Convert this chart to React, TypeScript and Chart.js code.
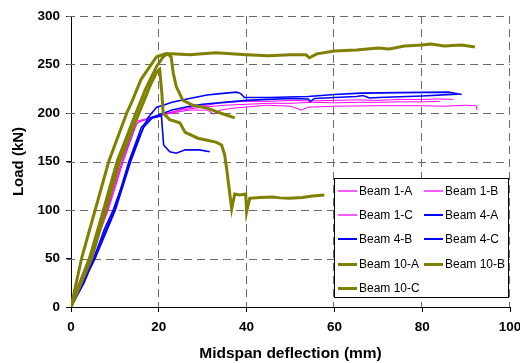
import React, { useEffect, useRef } from 'react';
import { Chart, registerables } from 'chart.js';

Chart.register(...registerables);

const FONT = "'Liberation Sans', Arial, Helvetica, sans-serif";

// X tick values / Y tick values
const xTicks = [0, 20, 40, 60, 80, 100];
const yTicks = [0, 50, 100, 150, 200, 250, 300];

const seriesLabels = ['Beam 1-A', 'Beam 1-B', 'Beam 1-C', 'Beam 4-A', 'Beam 4-B', 'Beam 4-C', 'Beam 10-A', 'Beam 10-B', 'Beam 10-C'];

const beam1A_x = [0, 0.6, 4.0, 8.2, 11.6, 14.4, 14.9, 15.4, 17, 19.5, 22.5, 26, 31, 34.5, 40, 45, 50, 55, 60, 65, 70, 75, 80, 84, 87];
const beam1A_y = [0, 12, 50, 100, 150, 186, 192, 192, 194, 197, 200, 205, 208, 211, 212, 212, 213, 212.5, 213, 213.5, 213, 214, 214, 214.5, 214];

const beam1B_x = [0, 4.3, 8.5, 11.9, 14.8, 15.3, 17, 20, 23, 27, 31, 32.5, 34, 37, 44.5, 50, 52.5, 54, 60, 70, 80, 85, 90, 92.3, 92.5];
const beam1B_y = [0, 50, 100, 150, 187, 191, 193, 197, 200, 203, 203, 199, 203, 205, 208, 207, 203, 206, 207, 207.5, 207.5, 207, 208, 207.5, 203];

const beam1C_x = [0, 4.1, 8.3, 11.7, 14.6, 15.2, 18, 21, 25, 30, 35, 40, 45, 50, 55, 60, 65, 70, 75, 80, 84];
const beam1C_y = [0, 50, 100, 150, 185, 190, 195, 199, 203, 206, 208, 209, 210, 210, 211, 210.5, 211, 211, 211.5, 211.5, 212];

const beam4A_x = [0, 3, 5.2, 7.6, 9.6, 11.6, 13.3, 15.5, 17.5, 19.5, 21, 23, 27, 31, 34, 37.7, 38.7, 39.5, 45, 54, 60, 66, 75, 86, 89];
const beam4A_y = [0, 25, 50, 80, 100, 125, 150, 175, 195, 206, 208, 211, 215, 218.5, 220, 221.5, 220, 216, 216, 217, 219, 220.5, 221, 221.5, 219];

const beam4B_x = [0, 5.5, 10.1, 13.6, 16.5, 18.5, 20.6, 20.8, 21.1, 22.5, 24, 26, 29.3, 31.6];
const beam4B_y = [0, 50, 100, 150, 185, 195, 197, 185, 167, 160, 158.5, 162, 162, 160];

const beam4C_x = [0, 5.1, 9.9, 13.2, 16, 18, 20, 23, 27, 30, 35, 40, 45, 50, 54, 54.5, 55.5, 60, 65, 66.5, 68, 70, 80, 88];
const beam4C_y = [0, 50, 100, 150, 185, 195, 198, 203, 207, 209, 211, 213, 214, 215, 214.5, 212, 215, 216, 217, 218, 215.5, 216, 217.5, 219.5];

const beam10A_x = [0, 2.4, 5.5, 8.6, 12.7, 14, 16, 19.5, 21.5, 23, 27, 33, 40, 45, 50, 53.5, 54.3, 56, 60, 65, 70, 72.5, 76, 80, 82, 85, 89, 92];
const beam10A_y = [0, 50, 100, 150, 200, 213, 235, 258, 261, 261, 260, 262, 260, 259, 260, 260, 257, 261, 264, 265, 267, 266, 269, 270, 271, 269, 270, 268];

const beam10B_x = [0, 4.2, 7.4, 10.5, 14.8, 17, 19.5, 21, 22, 22.8, 23.3, 24, 25.5, 27.8, 31, 34, 37.3];
const beam10B_y = [0, 50, 100, 150, 200, 225, 248, 258, 261, 258, 241, 227, 213, 208, 205, 200, 195];

const beam10C_x = [0, 4.7, 7.9, 11.1, 15.5, 18, 19.5, 20.2, 20.7, 21, 22.5, 24.8, 26, 28.9, 33, 34.3, 35, 35.5, 36.6, 37.3, 38.4, 39.8, 40, 40.7, 43, 46, 47.6, 49.8, 52.7, 55, 57.7];
const beam10C_y = [0, 50, 100, 150, 200, 228, 242, 245, 220, 200, 193, 190, 180, 174, 170, 167, 157, 141, 101, 116.5, 115.5, 116.5, 98, 112, 113, 113.5, 112.5, 112, 113, 114.5, 115.5];

const seriesX = [beam1A_x, beam1B_x, beam1C_x, beam4A_x, beam4B_x, beam4C_x, beam10A_x, beam10B_x, beam10C_x];
const seriesY = [beam1A_y, beam1B_y, beam1C_y, beam4A_y, beam4B_y, beam4C_y, beam10A_y, beam10B_y, beam10C_y];
const seriesColors = ['#FF00FF', '#FF00FF', '#FF00FF', '#0000FF', '#0000FF', '#0000FF', '#808000', '#808000', '#808000'];
const seriesWidths = [1, 1, 1, 1.6, 1.6, 1.6, 3, 3, 3];

const GRID_COLOR = '#6a6a6a';

const dashedGrid = {
  id: 'dashedGrid',
  beforeDatasetsDraw(chart: any) {
    const ctx = chart.ctx;
    const { left, right, top, bottom } = chart.chartArea;
    const xs = chart.scales.x;
    const ys = chart.scales.y;
    ctx.save();
    ctx.strokeStyle = GRID_COLOR;
    ctx.lineWidth = 1;
    ctx.setLineDash([8, 5]);
    xTicks.forEach((v) => {
      if (v === xTicks[0]) return;
      const px = Math.round(xs.getPixelForValue(v)) - 0.5;
      ctx.beginPath();
      ctx.moveTo(px, top);
      ctx.lineTo(px, bottom);
      ctx.stroke();
    });
    yTicks.forEach((v) => {
      if (v === yTicks[0]) return;
      const py = Math.round(ys.getPixelForValue(v)) + 0.5;
      ctx.beginPath();
      ctx.moveTo(left - 4, py);
      ctx.lineTo(right, py);
      ctx.stroke();
    });
    ctx.restore();
  },
};

const boxLegend = {
  id: 'boxLegend',
  afterDraw(chart: any) {
    const ctx = chart.ctx;
    ctx.save();
    ctx.setLineDash([]);
    const bx = 334.5, by = 178.5, bw = 174, bh = 119;
    ctx.fillStyle = '#ffffff';
    ctx.fillRect(bx, by, bw, bh);
    ctx.strokeStyle = '#000000';
    ctx.lineWidth = 1;
    ctx.strokeRect(bx, by, bw, bh);
    ctx.font = `12px ${FONT}`;
    ctx.textBaseline = 'middle';
    ctx.textAlign = 'left';
    chart.data.datasets.forEach((ds: any, i: number) => {
      const col = i % 2;
      const row = Math.floor(i / 2);
      const lx = col === 0 ? 338 : 424;
      const yc = Math.round(191 + row * 24.2);
      const thin = ds.borderWidth < 1.5;
      const lw = thin ? 1.3 : ds.borderWidth < 2.5 ? 2 : 3;
      const y = lw === 3 ? yc + 0.5 : yc;
      ctx.strokeStyle = ds.borderColor;
      ctx.lineWidth = lw;
      ctx.beginPath();
      ctx.moveTo(lx, y);
      ctx.lineTo(lx + 19, y);
      ctx.stroke();
      ctx.fillStyle = '#000000';
      ctx.fillText(ds.label, lx + 21, yc + 0.5);
    });
    ctx.restore();
  },
};

export default function App() {
  const ref = useRef<HTMLCanvasElement | null>(null);

  useEffect(() => {
    if (!ref.current) return;
    const datasets = seriesLabels.map((label, i) => ({
      label,
      data: seriesX[i].map((x, j) => ({ x, y: seriesY[i][j] })),
      borderColor: seriesColors[i],
      backgroundColor: seriesColors[i],
      borderWidth: seriesWidths[i],
      pointRadius: 0,
      showLine: true,
      tension: 0,
      fill: false,
      order: seriesLabels.length - i,
    }));

    const chart = new Chart(ref.current, {
      type: 'scatter',
      data: { datasets },
      plugins: [dashedGrid, boxLegend],
      options: {
        animation: false,
        responsive: false,
        devicePixelRatio: 1,
        layout: { padding: { top: 16, right: 10, left: 0, bottom: 0 } },
        plugins: { legend: { display: false }, tooltip: { enabled: false } },
        scales: {
          x: {
            type: 'linear',
            min: xTicks[0],
            max: xTicks[xTicks.length - 1],
            afterBuildTicks: (s: any) => { s.ticks = xTicks.map((v) => ({ value: v })); },
            ticks: { color: '#000', font: { family: FONT, size: 13.5, weight: 'bold' }, padding: 7, maxRotation: 0 },
            grid: { drawOnChartArea: false, color: '#000', tickColor: '#000', tickLength: 5, lineWidth: 1 },
            border: { color: '#000', width: 1 },
            title: { display: true, text: 'Midspan deflection (mm)', color: '#000', font: { family: FONT, size: 15.5, weight: 'bold' }, padding: { top: 0, bottom: 0 } },
            afterFit: (s: any) => { s.height = 56; s.paddingLeft = 0; s.paddingRight = 0; },
          },
          y: {
            type: 'linear',
            min: yTicks[0],
            max: yTicks[yTicks.length - 1],
            afterBuildTicks: (s: any) => { s.ticks = yTicks.map((v) => ({ value: v })); },
            ticks: { color: '#000', font: { family: FONT, size: 13.5, weight: 'bold' }, padding: 6 },
            grid: { drawOnChartArea: false, color: '#000', tickColor: '#000', tickLength: 5, lineWidth: 1 },
            border: { color: '#000', width: 1 },
            title: { display: true, text: 'Load (kN)', color: '#000', font: { family: FONT, size: 15, weight: 'bold' }, padding: { top: 10, bottom: 0 } },
            afterFit: (s: any) => { s.width = 71; s.paddingTop = 0; s.paddingBottom = 0; },
          },
        },
      },
    } as any);
    return () => chart.destroy();
  }, []);

  return (
    <div style={{ position: 'absolute', left: 0, top: 0, width: 520, height: 363, background: '#fff' }}>
      <canvas ref={ref} width={520} height={363} style={{ display: 'block' }} />
    </div>
  );
}
